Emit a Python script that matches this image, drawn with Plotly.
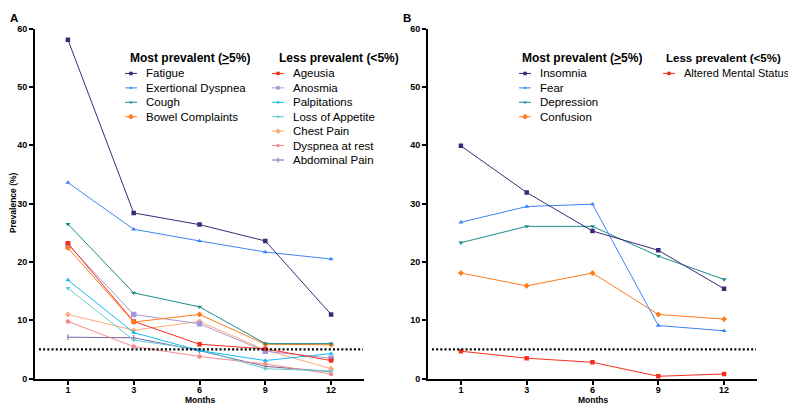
import plotly.graph_objects as go

months = ["1", "3", "6", "9", "12"]
threshold = 5

# Panel A - physical symptoms
a_most = ["Fatigue", "Exertional Dyspnea", "Cough", "Bowel Complaints"]
a_less = ["Ageusia", "Anosmia", "Palpitations", "Loss of Appetite",
          "Chest Pain", "Dyspnea at rest", "Abdominal Pain"]
fatigue = [58.1, 28.4, 26.4, 23.6, 11.0]
exertional_dyspnea = [33.6, 25.6, 23.6, 21.7, 20.5]
cough = [26.5, 14.7, 12.3, 6.0, 6.0]
bowel_complaints = [22.4, 9.7, 11.0, 5.9, 5.8]
ageusia = [23.2, 9.8, 5.9, 5.1, 3.1]
anosmia = [23.0, 11.0, 9.4, 4.7, 3.5]
palpitations = [16.9, 7.9, 4.8, 3.1, 4.3]
loss_of_appetite = [15.5, 6.6, 5.0, 1.7, 1.3]
chest_pain = [11.0, 8.3, 9.8, 4.9, 1.7]
dyspnea_at_rest = [9.8, 5.5, 3.8, 2.5, 0.8]
abdominal_pain = [7.1, 7.0, 4.8, 2.1, 1.2]

# Panel B - neuropsychiatric symptoms
b_most = ["Insomnia", "Fear", "Depression", "Confusion"]
b_less = ["Altered Mental Status"]
insomnia = [39.9, 31.9, 25.3, 22.0, 15.4]
fear = [26.8, 29.5, 29.9, 9.1, 8.2]
depression = [23.3, 26.1, 26.1, 21.0, 17.0]
confusion = [18.1, 15.9, 18.1, 11.0, 10.2]
altered_mental_status = [4.7, 3.5, 2.8, 0.4, 0.8]

values = {
    "Fatigue": fatigue, "Exertional Dyspnea": exertional_dyspnea,
    "Cough": cough, "Bowel Complaints": bowel_complaints,
    "Ageusia": ageusia, "Anosmia": anosmia, "Palpitations": palpitations,
    "Loss of Appetite": loss_of_appetite, "Chest Pain": chest_pain,
    "Dyspnea at rest": dyspnea_at_rest, "Abdominal Pain": abdominal_pain,
    "Insomnia": insomnia, "Fear": fear, "Depression": depression,
    "Confusion": confusion, "Altered Mental Status": altered_mental_status,
}

# (colour, marker symbol, marker size)
style = {
    "Fatigue": ("#3b2a78", "square", 4.5),
    "Exertional Dyspnea": ("#3d85f5", "triangle-up", 4.5),
    "Cough": ("#1f8c8c", "triangle-down", 4.5),
    "Bowel Complaints": ("#ff7a1a", "cross", 3.5),
    "Ageusia": ("#f5301e", "square", 4.5),
    "Anosmia": ("#a894d8", "square", 5.5),
    "Palpitations": ("#1ab8f0", "triangle-up", 4.5),
    "Loss of Appetite": ("#66cccc", "triangle-down", 4.5),
    "Chest Pain": ("#ffaa77", "cross", 3.5),
    "Dyspnea at rest": ("#f58a8a", "circle", 4.5),
    "Abdominal Pain": ("#7a62a8", "line-ns", 4),
    "Insomnia": ("#3b2a78", "square", 4.5),
    "Fear": ("#3d85f5", "triangle-up", 4.5),
    "Depression": ("#1f8c8c", "triangle-down", 4.5),
    "Confusion": ("#ff7a1a", "cross", 3.5),
    "Altered Mental Status": ("#f5301e", "square", 4.5),
}

# the page body adds an 8px margin, so the figure is a bit smaller than the window
OFF = 8
W, H = 780, 400
FONT = "Liberation Sans, Arial, sans-serif"


def fx(px):
    return (px - OFF) / W


def fy(py):
    return 1 - (py - OFF) / H


fig = go.Figure()


def marker_for(name, size=None):
    col, sym, sz = style[name]
    return dict(color=col, symbol=sym, size=size if size is not None else sz,
                line=dict(color=col, width=1 if sym in ("line-ns", "cross") else 0))


panels = [("x", "y", a_most + a_less), ("x2", "y2", b_most + b_less)]
for xa, ya, names in panels:
    for name in reversed(names):
        col = style[name][0]
        fig.add_trace(go.Scatter(
            x=months, y=values[name], xaxis=xa, yaxis=ya, name=name,
            mode="lines+markers", line=dict(color=col, width=1),
            marker=marker_for(name), showlegend=False,
        ))

# legend keys drawn on an invisible window-pixel overlay axis (x3/y3)
# (names, key x, title, title x, title size, item size)
legend_cols = [
    (a_most, 125, "Most prevalent (<u>&gt;</u>5%)", 128, 12, 11.5),
    (a_less, 272, "Less prevalent (&lt;5%)", 277, 12, 11.5),
    (b_most, 519, "Most prevalent (<u>&gt;</u>5%)", 520, 12, 11.5),
    (b_less, 663, "Less prevalent (&lt;5%)", 664, 11.5, 11),
]
row0, gap, title_y, key_w = 70, 14.8, 54, 12
annotations = []
for names, kx, title, tx, tsize, isize in legend_cols:
    annotations.append(dict(
        text="<b>" + title + "</b>", x=tx, y=title_y, xref="x3", yref="y3",
        xanchor="left", yanchor="middle", showarrow=False,
        font=dict(family=FONT, size=tsize, color="black")))
    for i, name in enumerate(names):
        yr = row0 + i * gap
        col = style[name][0]
        fig.add_trace(go.Scatter(
            x=[kx, kx + key_w], y=[yr, yr], xaxis="x3", yaxis="y3",
            mode="lines", line=dict(color=col, width=1),
            showlegend=False, hoverinfo="skip"))
        fig.add_trace(go.Scatter(
            x=[kx + key_w / 2], y=[yr], xaxis="x3", yaxis="y3",
            mode="markers", marker=marker_for(name, 3.5),
            showlegend=False, hoverinfo="skip"))
        annotations.append(dict(
            text=name, x=kx + key_w + 7, y=yr, xref="x3", yref="y3",
            xanchor="left", yanchor="middle", showarrow=False,
            font=dict(family=FONT, size=isize, color="black")))

# panel letters and axis titles
for letter, lx in (("A", 8), ("B", 401)):
    annotations.append(dict(
        text="<b>" + letter + "</b>", x=lx, y=13, xref="x3", yref="y3",
        xanchor="left", yanchor="middle", showarrow=False,
        font=dict(family=FONT, size=11.5, color="black")))

annotations.append(dict(
    text="<b>Prevalence (%)</b>", x=13, y=203, xref="x3", yref="y3",
    textangle=-90, showarrow=False, xanchor="center", yanchor="middle",
    font=dict(family=FONT, size=8.5, color="black")))
for cx in (200, 593):
    annotations.append(dict(
        text="<b>Months</b>", x=cx, y=404.5, xref="x3", yref="y3",
        showarrow=False, xanchor="center", yanchor="middle",
        font=dict(family=FONT, size=8.5, color="black")))

# threshold lines
shapes = []
for xr, yr in (("x domain", "y"), ("x2 domain", "y2")):
    shapes.append(dict(type="line", xref=xr, yref=yr, x0=0.012, x1=0.997,
                       y0=threshold, y1=threshold,
                       line=dict(color="black", width=2.2, dash="2px,2.2px")))

xaxis_style = dict(
    type="category", categoryorder="array", categoryarray=months,
    range=[-0.5, 4.5], showline=True, linecolor="black", linewidth=1.8,
    ticks="outside", ticklen=4, tickwidth=1.5, tickcolor="black",
    ticklabelstandoff=-2,
    showgrid=False, zeroline=False, fixedrange=True,
    tickfont=dict(family=FONT, size=9, color="black", weight="bold"),
)
yaxis_style = dict(
    range=[0, 60], tickvals=[0, 10, 20, 30, 40, 50, 60],
    showline=True, linecolor="black", linewidth=1.8,
    ticks="outside", ticklen=4, tickwidth=1.5, tickcolor="black",
    showgrid=False, zeroline=False, fixedrange=True,
    tickfont=dict(family=FONT, size=9, color="black", weight="bold"),
)

y_dom = [fy(383), fy(24)]
fig.update_layout(
    width=W, height=H,
    margin=dict(l=0, r=0, t=0, b=0),
    paper_bgcolor="white", plot_bgcolor="rgba(0,0,0,0)",
    xaxis=dict(xaxis_style, domain=[fx(35), fx(364)], anchor="y"),
    yaxis=dict(yaxis_style, domain=y_dom, anchor="x"),
    xaxis2=dict(xaxis_style, domain=[fx(428), fx(757)], anchor="y2"),
    yaxis2=dict(yaxis_style, domain=y_dom, anchor="x2"),
    xaxis3=dict(domain=[0, 1], range=[OFF, OFF + W], visible=False,
                fixedrange=True, anchor="y3"),
    yaxis3=dict(domain=[0, 1], range=[OFF + H, OFF], visible=False,
                fixedrange=True, anchor="x3"),
    annotations=annotations,
    shapes=shapes,
    showlegend=False,
)

fig.write_html("out.html")
